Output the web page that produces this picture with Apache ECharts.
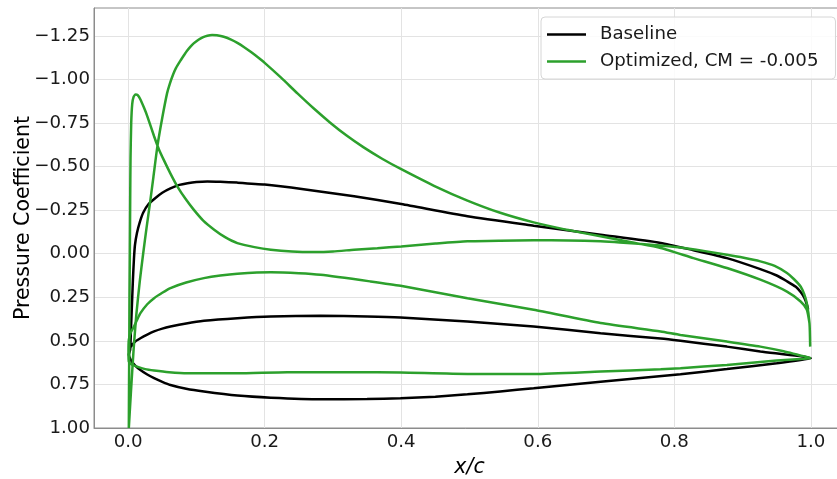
<!DOCTYPE html>
<html><head><meta charset="utf-8">
<script src="https://cdn.jsdelivr.net/npm/echarts@6/dist/echarts.min.js"></script>
<style>html,body{margin:0;padding:0;background:#fff}#c{width:837px;height:479px}</style>
</head><body><div id="c"></div><script>
// ---- data (x/c, Cp) ----
const xTicks = [0.0, 0.2, 0.4, 0.6, 0.8, 1.0];
const yTicks = [-1.25, -1.0, -0.75, -0.5, -0.25, 0.0, 0.25, 0.5, 0.75, 1.0];

// Baseline
const baseUpperX = [0.003,0.004,0.005,0.006,0.007,0.0085,0.010,0.013,0.017,0.022,0.030,0.040,0.050,0.062,0.075,0.087,0.100,0.116,0.135,0.160,0.200,0.257,0.331,0.400,0.497,0.594,0.692,0.780,0.828,0.877,0.926,0.950,0.965,0.978,0.985,0.990,0.994,0.996];
const baseUpperY = [0.55,0.45,0.35,0.25,0.15,0.03,-0.05,-0.12,-0.18,-0.235,-0.285,-0.32,-0.35,-0.375,-0.395,-0.405,-0.412,-0.415,-0.413,-0.408,-0.397,-0.37,-0.33,-0.285,-0.215,-0.161,-0.109,-0.062,-0.02,0.025,0.088,0.125,0.158,0.19,0.22,0.25,0.29,0.32];
const baseLowerX = [0.001,0.004,0.010,0.018,0.028,0.038,0.050,0.062,0.085,0.111,0.160,0.209,0.282,0.350,0.399,0.450,0.497,0.545,0.594,0.692,0.809,0.877,0.950,1.000];
const baseLowerY = [0.58,0.61,0.64,0.667,0.693,0.714,0.735,0.753,0.775,0.791,0.814,0.826,0.835,0.834,0.829,0.82,0.807,0.79,0.772,0.734,0.691,0.662,0.628,0.600];
const baseMidX = [0.004,0.010,0.018,0.028,0.038,0.050,0.062,0.085,0.111,0.160,0.209,0.282,0.350,0.399,0.497,0.594,0.692,0.780,0.809,0.877,0.926,1.000];
const baseMidY = [0.533,0.505,0.485,0.464,0.446,0.43,0.418,0.40,0.385,0.37,0.36,0.356,0.36,0.366,0.389,0.418,0.456,0.487,0.50,0.533,0.561,0.600];

// Optimized
const optPeakX = [0.001,0.0013,0.0017,0.002,0.0025,0.003,0.0035,0.0045,0.006,0.008,0.011,0.014,0.018,0.023,0.028,0.038,0.045,0.052,0.062,0.072,0.084,0.096,0.110,0.126,0.142,0.160,0.185,0.209,0.240,0.272,0.300,0.331,0.365,0.400,0.450,0.497,0.545,0.594,0.645,0.692,0.720,0.765,0.809,0.845,0.877,0.900,0.926,0.947,0.965,0.975,0.985,0.990,0.994,0.998,0.999];
const optPeakY = [1.00,0.75,0.50,0.25,0.0,-0.3,-0.55,-0.75,-0.86,-0.9,-0.914,-0.91,-0.885,-0.84,-0.79,-0.674,-0.60,-0.54,-0.46,-0.387,-0.315,-0.253,-0.19,-0.138,-0.095,-0.061,-0.038,-0.023,-0.013,-0.010,-0.013,-0.023,-0.032,-0.042,-0.058,-0.071,-0.075,-0.077,-0.076,-0.071,-0.065,-0.052,-0.036,-0.015,0.006,0.022,0.044,0.07,0.111,0.145,0.188,0.23,0.283,0.40,0.533];
const optHumpX = [0.001,0.004,0.008,0.012,0.017,0.022,0.027,0.032,0.037,0.043,0.050,0.057,0.061,0.066,0.070,0.077,0.082,0.086,0.091,0.096,0.103,0.110,0.116,0.123,0.130,0.140,0.150,0.160,0.170,0.180,0.190,0.200,0.224,0.248,0.272,0.296,0.320,0.345,0.372,0.400,0.448,0.497,0.545,0.594,0.643,0.692,0.741,0.780,0.828,0.877,0.926,0.965,0.985,0.994,0.998];
const optHumpY = [1.00,0.80,0.55,0.35,0.16,0.0,-0.15,-0.29,-0.44,-0.62,-0.78,-0.92,-0.975,-1.03,-1.065,-1.11,-1.14,-1.163,-1.187,-1.207,-1.228,-1.243,-1.251,-1.255,-1.253,-1.245,-1.23,-1.21,-1.185,-1.157,-1.127,-1.095,-1.01,-0.92,-0.833,-0.752,-0.678,-0.61,-0.545,-0.485,-0.39,-0.305,-0.235,-0.18,-0.137,-0.10,-0.063,-0.033,0.025,0.082,0.149,0.217,0.274,0.32,0.40];
const optMidX = [0.001,0.004,0.0085,0.013,0.018,0.028,0.038,0.050,0.062,0.085,0.111,0.135,0.160,0.209,0.250,0.282,0.355,0.399,0.497,0.594,0.692,0.780,0.809,0.877,0.926,0.960,1.000];
const optMidY = [0.494,0.45,0.418,0.38,0.341,0.29,0.255,0.224,0.197,0.165,0.14,0.125,0.115,0.107,0.112,0.121,0.159,0.184,0.255,0.322,0.398,0.446,0.466,0.504,0.533,0.56,0.600];
const optLowX = [0.0005,0.001,0.005,0.013,0.025,0.038,0.060,0.087,0.160,0.233,0.331,0.399,0.497,0.594,0.692,0.780,0.809,0.877,0.950,1.000];
const optLowY = [0.56,0.619,0.635,0.648,0.662,0.67,0.68,0.686,0.686,0.68,0.68,0.682,0.69,0.69,0.676,0.663,0.657,0.638,0.613,0.600];

const nameBase = 'Baseline';
const nameOpt = 'Optimized, CM = -0.005';

// ---- build ----
const pts = (xs, ys) => xs.map((x, i) => [x, ys[i]]);
const rev = a => a.slice().reverse();
const basePath = rev(pts(baseUpperX, baseUpperY)).concat(pts(baseLowerX, baseLowerY), rev(pts(baseMidX, baseMidY)));
const optPath1 = rev(pts(optPeakX, optPeakY)).concat(pts(optHumpX, optHumpY));
const optPath2 = rev(pts(optMidX, optMidY)).concat(pts(optLowX, optLowY));

const FONT = 'DejaVu Sans';
const GREEN = '#2ca02c';
const FS = 18.2;
const fmtY = v => (v < 0 ? '\u2212' + Math.abs(v).toFixed(2) : Math.abs(v).toFixed(2));
const lineSeries = (name, data, color) => ({
  type: 'line', name, data, symbol: 'none', showSymbol: false, smooth: 0.2,
  lineStyle: { color, width: 2.5 }, itemStyle: { color }, silent: true
});

const chart = echarts.init(document.getElementById('c'), null, { renderer: 'canvas' });
chart.setOption({
  animation: false,
  backgroundColor: '#fff',
  grid: { left: 94, top: 8, bottom: 51, right: -8, show: true, borderColor: '#8c8c8c', borderWidth: 1, backgroundColor: 'transparent', containLabel: false, outerBoundsMode: 'none' },
  xAxis: {
    type: 'value', min: -0.05, max: 1.05,
    name: 'x/c', nameLocation: 'middle', nameGap: 30, nameMoveOverlap: false,
    nameTextStyle: { fontFamily: FONT, fontSize: 20.5, fontStyle: 'italic', color: '#000' },
    axisLine: { show: true, onZero: false, lineStyle: { color: '#8c8c8c', width: 1 } },
    axisTick: { show: false, customValues: xTicks },
    axisLabel: { customValues: xTicks, formatter: v => v.toFixed(1), fontFamily: FONT, fontSize: FS, color: '#1a1a1a', margin: 5 },
    splitLine: { show: true, lineStyle: { color: '#e3e3e3', width: 1 } }
  },
  yAxis: {
    type: 'value', inverse: true, min: -1.41, max: 1.0,
    name: 'Pressure Coefficient', nameLocation: 'middle', nameGap: 60, nameRotate: 90, nameMoveOverlap: false,
    nameTextStyle: { fontFamily: FONT, fontSize: 20.5, color: '#000' },
    axisLine: { show: true, onZero: false, lineStyle: { color: '#8c8c8c', width: 1 } },
    axisTick: { show: false, customValues: yTicks },
    axisLabel: { customValues: yTicks, formatter: fmtY, fontFamily: FONT, fontSize: FS, color: '#1a1a1a', margin: 4 },
    splitLine: { show: true, lineStyle: { color: '#e3e3e3', width: 1 } }
  },
  legend: {
    data: [nameBase, nameOpt], orient: 'vertical', left: 541, top: 17,
    icon: 'path://M0,0L40,0L40,2.6L0,2.6Z',
    itemWidth: 39, itemHeight: 2.6, itemGap: 6,
    padding: [7, 17, 7, 6],
    backgroundColor: 'rgba(255,255,255,0.85)', borderColor: '#d6d6d6', borderWidth: 1, borderRadius: 4,
    textStyle: { fontFamily: FONT, fontSize: FS, color: '#1a1a1a', padding: [0, 0, 0, 9], lineHeight: 21 }
  },
  series: [
    lineSeries(nameBase, basePath, '#000'),
    lineSeries(nameOpt, optPath1, GREEN),
    lineSeries(nameOpt, optPath2, GREEN)
  ]
});
</script></body></html>
